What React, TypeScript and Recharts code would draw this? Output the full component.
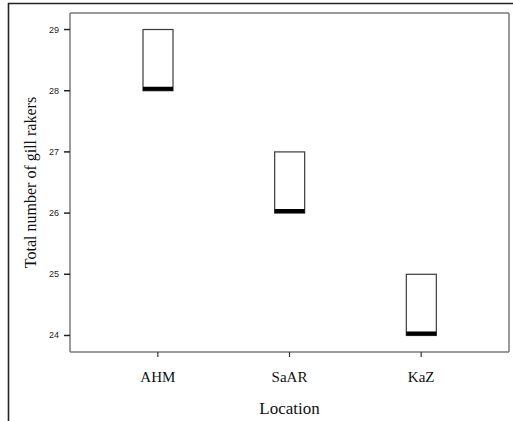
import React from "react";
import { Bar, CartesianGrid, ComposedChart, Label, XAxis, YAxis } from "recharts";

const locations = ["AHM", "SaAR", "KaZ"];
const lowerQuartile = [28, 26, 24];
const upperQuartile = [29, 27, 25];
const medians = [28, 26, 24];
const yTicks = [24, 25, 26, 27, 28, 29];

const AXIS = "#7a7a7a";

const data = locations.map((loc, i) => ({
  loc,
  box: [lowerQuartile[i], upperQuartile[i]],
  median: medians[i],
}));

function BoxShape(props: any) {
  const { x, y, width, height, payload } = props;
  const [lo, hi] = payload.box;
  const my = y + (height * (hi - payload.median)) / (hi - lo || 1);
  return (
    <g>
      <rect x={x} y={y} width={width} height={height} fill="#fff" stroke="#3a3a3a" strokeWidth={1.2} />
      <line x1={x} x2={x + width} y1={my - 2} y2={my - 2} stroke="#000" strokeWidth={4} />
    </g>
  );
}

function XTick(props: any) {
  const { x, y, payload } = props;
  return (
    <text x={x} y={y + 11} textAnchor="middle" fill="#111" fontFamily="Liberation Serif" fontSize={15}>
      {payload.value}
    </text>
  );
}

function YTick(props: any) {
  const { x, y, payload } = props;
  return (
    <text x={x} y={y + 3} textAnchor="end" fill="#222" fontFamily="Liberation Sans" fontSize={9}>
      {payload.value}
    </text>
  );
}

export default function App() {
  return (
    <div style={{ position: "fixed", left: 0, top: 0, width: 513, height: 421, background: "#fff" }}>
      {/* outer figure frame (top and left edges) */}
      <svg width={513} height={421} style={{ position: "absolute", left: 0, top: 0 }}>
        <line x1={8} y1={3.5} x2={513} y2={3.5} stroke="#222" strokeWidth={1.6} />
        <line x1={8.5} y1={3} x2={8.5} y2={421} stroke="#222" strokeWidth={1.6} />
      </svg>
      <div style={{ position: "absolute", left: 0, top: 0 }}>
        <ComposedChart
          width={513}
          height={421}
          data={data}
          margin={{ top: 13, right: 4, left: 0, bottom: 0 }}
          accessibilityLayer={false}
        >
          <CartesianGrid
            stroke={AXIS}
            strokeWidth={1.5}
            horizontalCoordinatesGenerator={({ offset }: any) => [offset.top]}
            verticalCoordinatesGenerator={({ offset }: any) => [offset.left + offset.width]}
          />
          <XAxis
            dataKey="loc"
            height={69}
            padding={{ left: 22, right: 22 }}
            axisLine={{ stroke: AXIS, strokeWidth: 1.5 }}
            tickLine={{ stroke: "#333", strokeWidth: 1.2 }}
            tickSize={5}
            tickMargin={14}
            tick={<XTick />}
          >
            <Label
              content={(p: any) => {
                const vb = p.viewBox;
                return (
                  <text
                    x={vb.x + vb.width / 2}
                    y={vb.y + vb.height - 7}
                    textAnchor="middle"
                    fill="#111"
                    fontFamily="Liberation Serif"
                    fontSize={17}
                  >
                    Location
                  </text>
                );
              }}
            />
          </XAxis>
          <YAxis
            width={70}
            domain={[23.73, 29.27]}
            ticks={yTicks}
            allowDataOverflow
            axisLine={{ stroke: AXIS, strokeWidth: 1.5 }}
            tickLine={{ stroke: "#222", strokeWidth: 1.5 }}
            tickSize={6}
            tickMargin={5}
            tick={<YTick />}
          >
            <Label
              content={(p: any) => {
                const vb = p.viewBox;
                const cx = vb.x + 30;
                const cy = vb.y + vb.height / 2;
                return (
                  <text
                    x={cx}
                    y={cy}
                    transform={`rotate(-90 ${cx} ${cy})`}
                    textAnchor="middle"
                    dominantBaseline="central"
                    fill="#111"
                    fontFamily="Liberation Serif"
                    fontSize={16}
                  >
                    Total number of gill rakers
                  </text>
                );
              }}
            />
          </YAxis>
          <Bar dataKey="box" barSize={30} shape={BoxShape} isAnimationActive={false} />
        </ComposedChart>
      </div>
    </div>
  );
}
